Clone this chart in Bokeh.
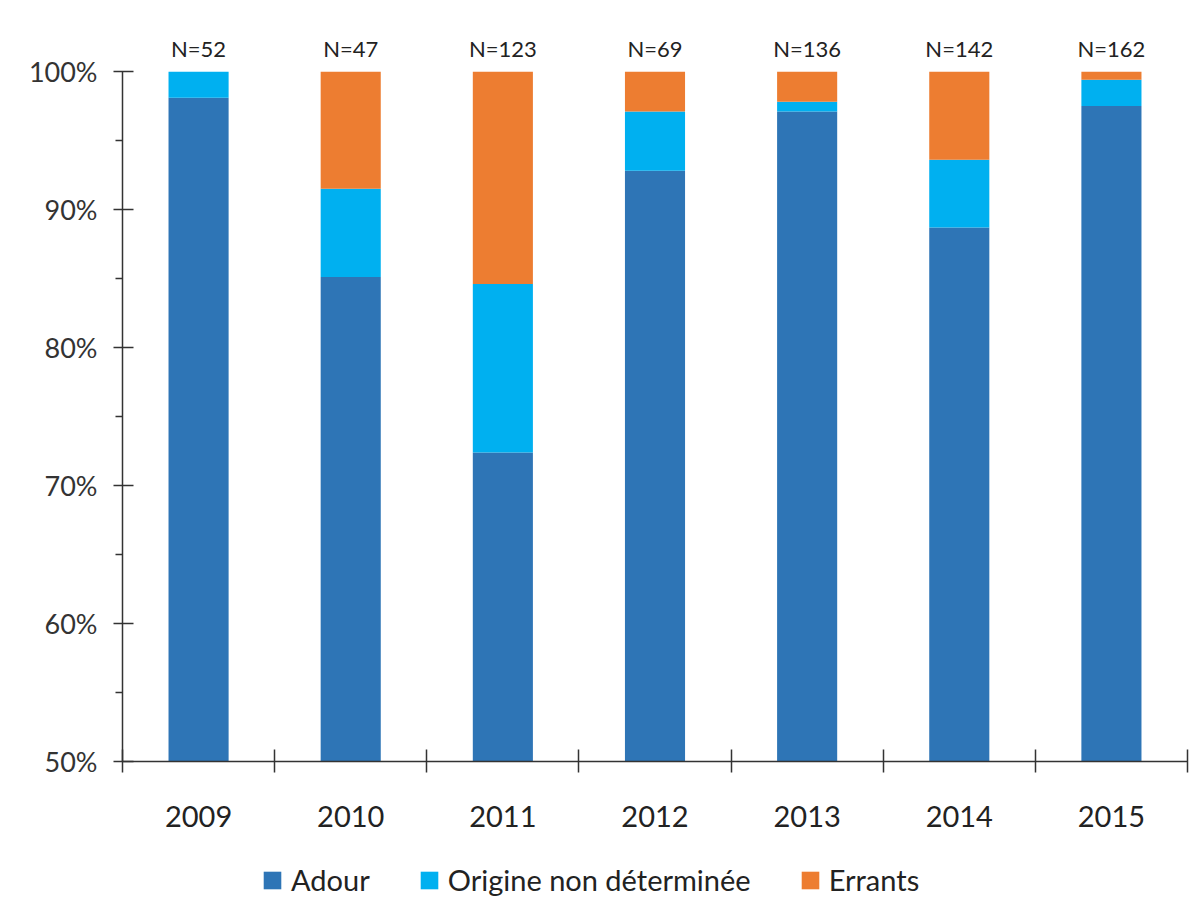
from bokeh.plotting import figure
from bokeh.models import ColumnDataSource, Range1d, FixedTicker, Legend, LinearAxis
from bokeh.layouts import column
from bokeh.embed import file_html
from bokeh.resources import INLINE

years = ["2009", "2010", "2011", "2012", "2013", "2014", "2015"]
n_labels = ["N=52", "N=47", "N=123", "N=69", "N=136", "N=142", "N=162"]
adour = [98.1, 85.1, 72.4, 92.8, 97.1, 88.7, 97.5]
origine = [1.9, 6.4, 12.2, 4.3, 0.7, 4.9, 1.9]
errants = [0.0, 8.5, 15.4, 2.9, 2.2, 6.4, 0.6]
series = ["Adour", "Origine non déterminée", "Errants"]
colors = ["#2E75B6", "#00B0F0", "#ED7D31"]
y_ticks = [50, 60, 70, 80, 90, 100]

FONT = "Lato"
xpos = [i + 0.5 for i in range(len(years))]

source = ColumnDataSource(dict(x=xpos, adour=adour, origine=origine, errants=errants))

p = figure(width=1200, height=850, output_backend="svg", toolbar_location=None,
           x_range=Range1d(0, len(years)), y_range=Range1d(50, 100),
           min_border_left=122, min_border_right=13, min_border_top=71, min_border_bottom=89)
p.outline_line_color = None
p.xgrid.visible = False
p.ygrid.visible = False

p.vbar_stack(["adour", "origine", "errants"], x="x", width=0.395, source=source,
             color=colors, line_color=None)

# y axis
ya = p.yaxis[0]
ya.ticker = FixedTicker(ticks=y_ticks, minor_ticks=[t + 5 for t in y_ticks[:-1]])
ya.major_label_overrides = {t: f"{t}%" for t in y_ticks}
ya.major_label_text_font = FONT
ya.major_label_text_font_size = "27px"
ya.major_label_text_color = "#333333"
ya.major_label_standoff = 16
ya.major_tick_in = 11
ya.major_tick_out = 9
ya.minor_tick_in = 0
ya.minor_tick_out = 7
ya.axis_line_color = "#333333"
ya.major_tick_line_color = "#333333"
ya.minor_tick_line_color = "#333333"
ya.axis_line_width = 1.5
ya.major_tick_line_width = 1.5
ya.minor_tick_line_width = 1.5

# x axis
xa = p.xaxis[0]
xa.ticker = FixedTicker(ticks=xpos, minor_ticks=list(range(len(years) + 1)))
xa.major_label_overrides = {x: y for x, y in zip(xpos, years)}
xa.major_label_text_font = FONT
xa.major_label_text_font_size = "29px"
xa.major_label_text_color = "#222222"
xa.major_label_standoff = 33
xa.major_tick_in = 0
xa.major_tick_out = 0
xa.minor_tick_in = 12
xa.minor_tick_out = 11
xa.axis_line_color = "#333333"
xa.minor_tick_line_color = "#333333"
xa.axis_line_width = 1.5
xa.minor_tick_line_width = 1.5

# N labels as a top axis
ta = LinearAxis(ticker=FixedTicker(ticks=xpos, minor_ticks=[]),
                major_label_overrides={x: n for x, n in zip(xpos, n_labels)},
                major_label_text_font=FONT, major_label_text_font_size="22px",
                major_label_text_color="#222222", major_label_standoff=10,
                major_tick_in=0, major_tick_out=0, minor_tick_in=0, minor_tick_out=0,
                axis_line_color=None, major_tick_line_color=None, minor_tick_line_color=None)
p.add_layout(ta, "above")

# legend in its own strip below the chart (swatch renderers sit outside the visible range)
lf = figure(width=1200, height=52, output_backend="svg", toolbar_location=None,
            x_range=Range1d(0, 1), y_range=Range1d(0, 1),
            min_border=0, outline_line_color=None)
lf.axis.visible = False
lf.grid.visible = False
items = []
for s, c in zip(series, colors):
    r = lf.vbar(x=[-10], top=[-10], bottom=[-11], width=1, color=c, line_color=None)
    items.append((s, [r]))
legend = Legend(items=items, orientation="horizontal", location=(139, 5),
                label_text_font=FONT, label_text_font_size="29px", label_text_color="#222222",
                glyph_width=22, glyph_height=22, label_standoff=8, spacing=48,
                padding=0, margin=0, border_line_color=None, background_fill_alpha=0,
                label_height=30)
lf.add_layout(legend)

layout = column(p, lf, spacing=0)
open("out.html", "w").write(file_html(layout, INLINE))
